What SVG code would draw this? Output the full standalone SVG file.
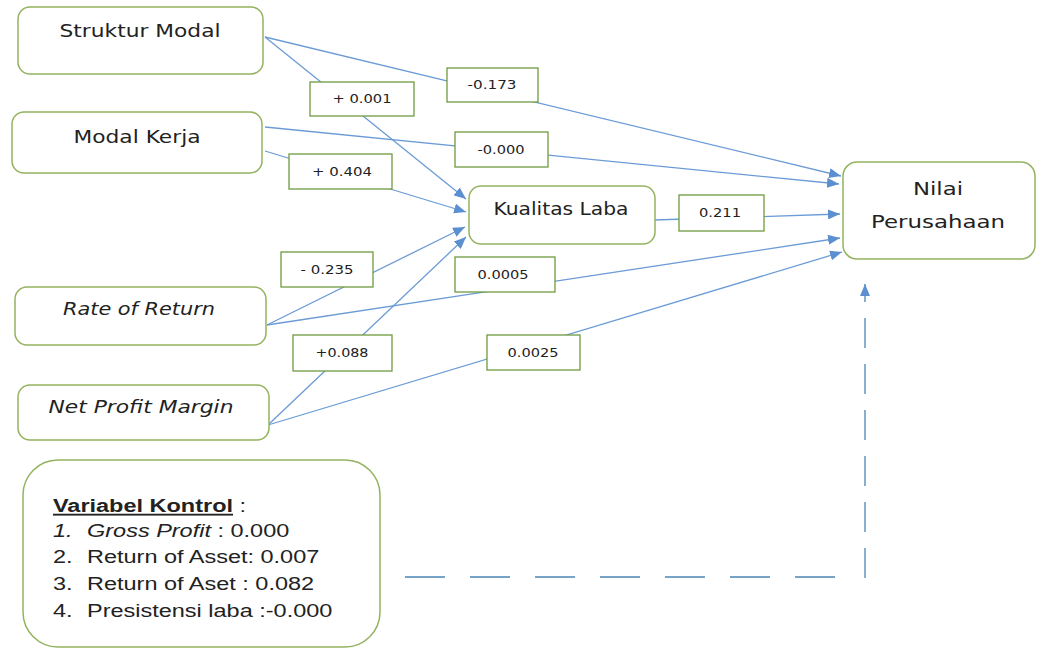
<svg xmlns="http://www.w3.org/2000/svg" width="1037" height="649" viewBox="0 0 1037 649">
<style>
.node{fill:#ffffff;stroke:#93b35f;stroke-width:1.5}
.lbl{fill:#ffffff;stroke:#6f9a3f;stroke-width:1.3}
.con{fill:none;stroke:#6b9bd6;stroke-width:1.3}
.dash{fill:none;stroke:#4a86b8;stroke-width:1.3}
.nt{font-family:"DejaVu Sans",Verdana,sans-serif;font-size:17px;fill:#222;text-anchor:middle}
.lt{font-family:"DejaVu Sans",Verdana,sans-serif;font-size:12px;fill:#222;text-anchor:middle}
.ct{font-family:"Liberation Sans",Arial,sans-serif;font-size:18.5px;fill:#222}
</style>
<defs>
<marker id="ah" viewBox="0 0 12 10" refX="12" refY="5" markerWidth="12" markerHeight="10" markerUnits="userSpaceOnUse" orient="auto">
<path d="M0,0 L12,5 L0,10 z" fill="#5b8fd0"/>
</marker>
</defs>
<rect width="1037" height="649" fill="#ffffff"/>
<g id="connectors">
<line class="con" x1="265" y1="37" x2="466" y2="199" marker-end="url(#ah)"/>
<line class="con" x1="265" y1="37" x2="841" y2="176" marker-end="url(#ah)"/>
<line class="con" x1="265" y1="151" x2="466" y2="212" marker-end="url(#ah)"/>
<line class="con" x1="265" y1="127" x2="839" y2="184" marker-end="url(#ah)"/>
<line class="con" x1="655" y1="220" x2="840" y2="214" marker-end="url(#ah)"/>
<line class="con" x1="267" y1="325" x2="465" y2="227" marker-end="url(#ah)"/>
<line class="con" x1="267" y1="325" x2="840" y2="238" marker-end="url(#ah)"/>
<line class="con" x1="268" y1="425" x2="466" y2="237" marker-end="url(#ah)"/>
<line class="con" x1="268" y1="425" x2="842" y2="252" marker-end="url(#ah)"/>
<path class="dash" d="M405,577 H840" stroke-dasharray="40 25"/>
<path class="dash" d="M865,578 V284" stroke-dasharray="30 16" marker-end="url(#ah)"/>
</g>
<g id="lbl-p001"><rect class="lbl" x="310" y="82" width="104" height="34"/><text class="lt" x="362" y="103" textLength="59" lengthAdjust="spacingAndGlyphs">+ 0.001</text></g>
<g id="lbl-m173"><rect class="lbl" x="447" y="68" width="91" height="34"/><text class="lt" x="492" y="89" textLength="49" lengthAdjust="spacingAndGlyphs">-0.173</text></g>
<g id="lbl-m000"><rect class="lbl" x="455" y="132" width="93" height="35"/><text class="lt" x="501" y="154" textLength="47" lengthAdjust="spacingAndGlyphs">-0.000</text></g>
<g id="lbl-p404"><rect class="lbl" x="289" y="154" width="103" height="35"/><text class="lt" x="342" y="176" textLength="60" lengthAdjust="spacingAndGlyphs">+ 0.404</text></g>
<g id="lbl-211"><rect class="lbl" x="679" y="195" width="85" height="36"/><text class="lt" x="720" y="217" font-size="11" textLength="42" lengthAdjust="spacingAndGlyphs">0.211</text></g>
<g id="lbl-m235"><rect class="lbl" x="281" y="252" width="92" height="35"/><text class="lt" x="327" y="274" textLength="53" lengthAdjust="spacingAndGlyphs">- 0.235</text></g>
<g id="lbl-0005"><rect class="lbl" x="455" y="257" width="100" height="35"/><text class="lt" x="503" y="279" textLength="51" lengthAdjust="spacingAndGlyphs">0.0005</text></g>
<g id="lbl-p088"><rect class="lbl" x="293" y="335" width="99" height="36"/><text class="lt" x="342" y="357" textLength="53" lengthAdjust="spacingAndGlyphs">+0.088</text></g>
<g id="lbl-0025"><rect class="lbl" x="487" y="335" width="93" height="35"/><text class="lt" x="533" y="357" textLength="51" lengthAdjust="spacingAndGlyphs">0.0025</text></g>
<g id="struktur-modal"><rect class="node" x="18" y="7" width="245" height="67" rx="12"/><text class="nt" x="140" y="37" textLength="161" lengthAdjust="spacingAndGlyphs">Struktur Modal</text></g>
<g id="modal-kerja"><rect class="node" x="12" y="112" width="250" height="61" rx="12"/><text class="nt" x="137" y="143" textLength="127" lengthAdjust="spacingAndGlyphs">Modal Kerja</text></g>
<g id="kualitas-laba"><rect class="node" x="469" y="186" width="186" height="58" rx="12"/><text class="nt" x="561" y="215" textLength="135" lengthAdjust="spacingAndGlyphs">Kualitas Laba</text></g>
<g id="nilai-perusahaan"><rect class="node" x="843" y="162" width="192" height="97" rx="14"/><text class="nt" x="938" y="195" font-size="18" textLength="50" lengthAdjust="spacingAndGlyphs">Nilai</text><text class="nt" x="938" y="228" font-size="18" textLength="134" lengthAdjust="spacingAndGlyphs">Perusahaan</text></g>
<g id="rate-of-return"><rect class="node" x="15" y="287" width="251" height="58" rx="12"/><text class="nt" x="139" y="315" font-style="italic" textLength="152" lengthAdjust="spacingAndGlyphs">Rate of Return</text></g>
<g id="net-profit-margin"><rect class="node" x="18" y="385" width="251" height="55" rx="12"/><text class="nt" x="141" y="413" font-style="italic" textLength="185" lengthAdjust="spacingAndGlyphs">Net Profit Margin</text></g>
<g id="variabel-kontrol"><rect class="node" x="23" y="460" width="357" height="187" rx="35"/>
<g transform="translate(53 0) scale(1.27 1)">
<text class="ct" x="0" y="512"><tspan font-weight="bold" text-decoration="underline">Variabel Kontrol</tspan> :</text>
<text class="ct" x="0" y="537" font-style="italic">1.</text><text class="ct" x="26.8" y="537"><tspan font-style="italic">Gross Profit</tspan> : 0.000</text>
<text class="ct" x="0" y="563">2.</text><text class="ct" x="26.8" y="563">Return of Asset: 0.007</text>
<text class="ct" x="0" y="590">3.</text><text class="ct" x="26.8" y="590">Return of Aset : 0.082</text>
<text class="ct" x="0" y="617">4.</text><text class="ct" x="26.8" y="617">Presistensi laba :-0.000</text>
</g></g>
</svg>
